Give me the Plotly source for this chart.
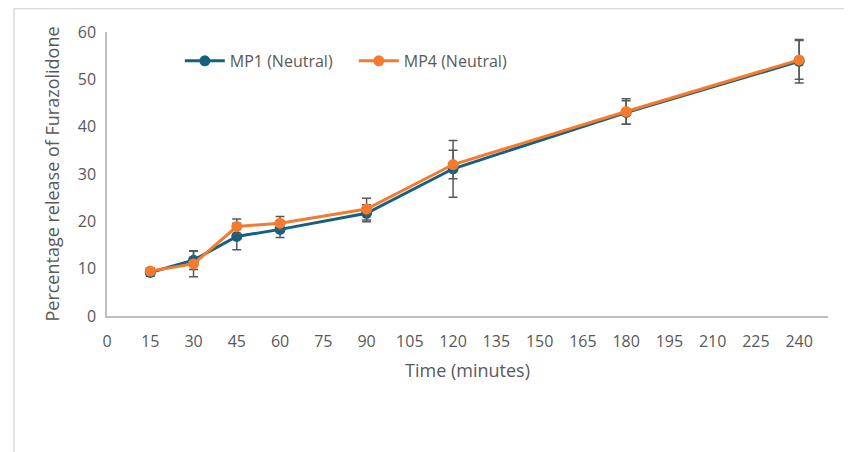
import plotly.graph_objects as go

time_min = [15, 30, 45, 60, 90, 120, 180, 240]
mp1_values = [9.2, 11.8, 16.8, 18.3, 21.7, 31.1, 43.0, 53.8]
mp1_errors = [0.8, 2.0, 2.8, 1.7, 1.8, 6.0, 2.5, 4.6]
mp4_values = [9.5, 11.0, 18.9, 19.6, 22.6, 32.0, 43.2, 54.1]
mp4_errors = [0.7, 2.7, 1.6, 1.4, 2.3, 3.0, 2.7, 4.1]
x_ticks = list(range(0, 241, 15))
y_ticks = list(range(0, 61, 10))

blue = "#156082"
orange = "#F47A2E"
err_col = "#595959"
font_family = "Open Sans, Lato, sans-serif"

fig = go.Figure()
fig.add_trace(go.Scatter(
    x=time_min, y=mp1_values, name="MP1 (Neutral)", mode="lines+markers",
    line=dict(color=blue, width=3), marker=dict(color=blue, size=11),
    error_y=dict(type="data", array=mp1_errors, visible=True, color=err_col, thickness=1.5, width=4.5),
))
fig.add_trace(go.Scatter(
    x=time_min, y=mp4_values, name="MP4 (Neutral)", mode="lines+markers",
    line=dict(color=orange, width=3), marker=dict(color=orange, size=11),
    error_y=dict(type="data", array=mp4_errors, visible=True, color=err_col, thickness=1.5, width=4.5),
))

fig.update_layout(
    width=844, height=444,
    margin=dict(l=99, r=24, t=24, b=136),
    paper_bgcolor="white", plot_bgcolor="white",
    font=dict(family=font_family, size=16, color="#595959"),
    showlegend=True,
    legend=dict(orientation="h", x=0.101, y=0.898, xanchor="left", yanchor="middle",
                font=dict(size=16, color="#595959"), itemwidth=40,
                entrywidth=119, entrywidthmode="pixels",
                bgcolor="rgba(0,0,0,0)", tracegroupgap=0),
    xaxis=dict(range=[0, 250], tickvals=x_ticks, ticktext=[str(v) for v in x_ticks],
               showgrid=False, zeroline=False, showline=True, linecolor="#BFBFBF", linewidth=1.5,
               ticks="", ticklabelstandoff=10, tickfont=dict(size=16, color="#595959"),
               title=dict(text="Time (minutes)", font=dict(size=18, color="#595959"), standoff=13)),
    yaxis=dict(range=[0, 60], tickvals=y_ticks, showgrid=False, zeroline=False,
               showline=True, linecolor="#BFBFBF", linewidth=1.5, ticks="",
               ticklabelstandoff=6, tickfont=dict(size=16, color="#595959"),
               title=dict(text="Percentage release of Furazolidone", font=dict(size=18, color="#595959"), standoff=13)),
)

# outer chart frame (top and left edges)
fig.add_shape(type="line", xref="paper", yref="paper", x0=-0.129, x1=1.06, y0=1.083, y1=1.083,
              line=dict(color="#D9D9D9", width=1.5))
fig.add_shape(type="line", xref="paper", yref="paper", x0=-0.129, x1=-0.129, y0=1.083, y1=-0.6,
              line=dict(color="#D9D9D9", width=1.5))

fig.write_html("out.html")
